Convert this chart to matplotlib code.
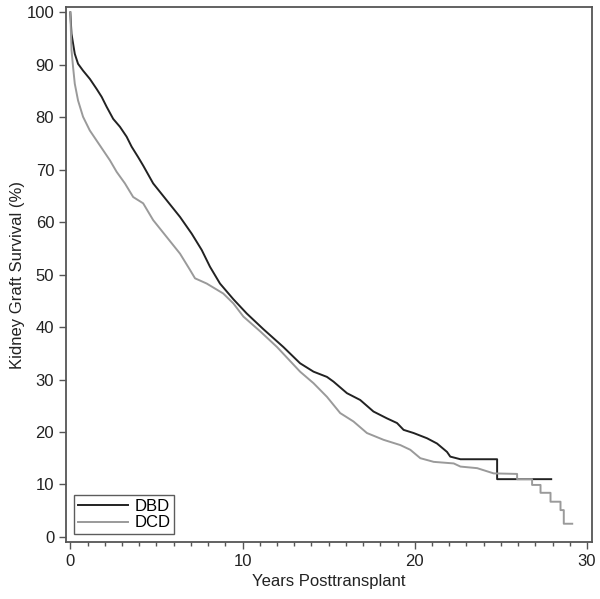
import matplotlib
matplotlib.use("Agg")
import matplotlib.pyplot as plt
from matplotlib.ticker import MultipleLocator

plt.rcParams["font.family"] = ["Liberation Sans", "DejaVu Sans"]

# Kaplan-Meier graft survival (years, %)
dbd_years = [0, 0.07, 0.26, 0.45, 0.74, 1.14, 1.53, 1.82, 2.11, 2.49, 2.88, 3.27,
             3.56, 3.94, 4.23, 4.81, 5.59, 6.37, 7.05, 7.63, 8.11, 8.69, 9.47,
             10.24, 11.21, 12.37, 13.34, 14.12, 14.9, 15.28, 16.06, 16.83, 17.6,
             18.38, 18.97, 19.35, 19.93, 20.71, 21.29, 21.87, 22.06, 22.65, 24.78,
             24.78, 27.92]
dbd_surv = [100, 95.9, 92.1, 90.2, 88.9, 87.3, 85.4, 83.9, 82.0, 79.7, 78.2, 76.3,
            74.4, 72.4, 70.8, 67.4, 64.2, 61.0, 57.8, 54.7, 51.5, 48.3, 45.3,
            42.6, 39.6, 36.2, 33.1, 31.5, 30.5, 29.6, 27.4, 26.1, 23.9,
            22.6, 21.7, 20.4, 19.8, 18.8, 17.8, 16.2, 15.3, 14.8, 14.8,
            11.0, 11.0]

dcd_years = [0, 0.07, 0.16, 0.26, 0.45, 0.74, 1.13, 1.52, 1.91, 2.30, 2.69, 3.17,
             3.65, 4.23, 4.81, 5.59, 6.37, 6.95, 7.24, 7.92, 8.88, 9.47, 10.05,
             11.02, 12.0, 13.34, 14.12, 14.9, 15.67, 16.44, 17.22, 18.19, 19.16,
             19.74, 20.32, 21.1, 22.26, 22.65, 23.62, 24.58, 25.94, 25.94, 26.81,
             26.81, 27.3, 27.3, 27.88, 27.88, 28.46, 28.46, 28.65, 28.65, 29.14]
dcd_surv = [100, 92.8, 89.6, 86.4, 83.2, 80.1, 77.5, 75.6, 73.7, 71.8, 69.6, 67.4,
            64.8, 63.6, 60.4, 57.2, 54.0, 50.9, 49.3, 48.3, 46.4, 44.5, 42.0,
            39.2, 36.2, 31.5, 29.3, 26.7, 23.6, 22.0, 19.8, 18.5, 17.5,
            16.6, 15.0, 14.3, 14.0, 13.4, 13.1, 12.1, 12.0, 11.0, 11.0,
            9.9, 9.9, 8.4, 8.4, 6.7, 6.7, 5.1, 5.1, 2.5, 2.5]

x_ticks = [0, 10, 20, 30]
y_ticks = [0, 10, 20, 30, 40, 50, 60, 70, 80, 90, 100]

SPINE = "#555555"

fig = plt.figure(figsize=(6.0, 5.99), dpi=100)
ax = fig.add_axes([0.11, 0.095, 0.877, 0.893])

ax.plot(dbd_years, dbd_surv, color="#222222", linewidth=1.4, label="DBD")
ax.plot(dcd_years, dcd_surv, color="#9a9a9a", linewidth=1.4, label="DCD")

ax.set_xlim(-0.25, 30.3)
ax.set_ylim(-1, 101)
ax.set_xticks(x_ticks)
ax.set_yticks(y_ticks)
ax.xaxis.set_minor_locator(MultipleLocator(1))
ax.tick_params(axis="both", which="major", direction="out", length=5,
               width=1, color=SPINE, labelsize=12, labelcolor="#222222")
ax.tick_params(axis="x", which="minor", direction="out", length=3,
               width=1, color=SPINE)
for s in ax.spines.values():
    s.set_color(SPINE)
    s.set_linewidth(1.3)

ax.set_xlabel("Years Posttransplant", fontsize=12, color="#222222", labelpad=4)
ax.set_ylabel("Kidney Graft Survival (%)", fontsize=12, color="#222222", labelpad=1)

leg = ax.legend(loc="lower left", fontsize=12, frameon=True, fancybox=False,
                handlelength=3.0, handletextpad=0.4, borderpad=0.2,
                labelspacing=0.1, borderaxespad=0.5)
leg.get_frame().set_edgecolor("#333333")
leg.get_frame().set_linewidth(1.0)

fig.savefig("out.png", dpi=100, facecolor="white")
